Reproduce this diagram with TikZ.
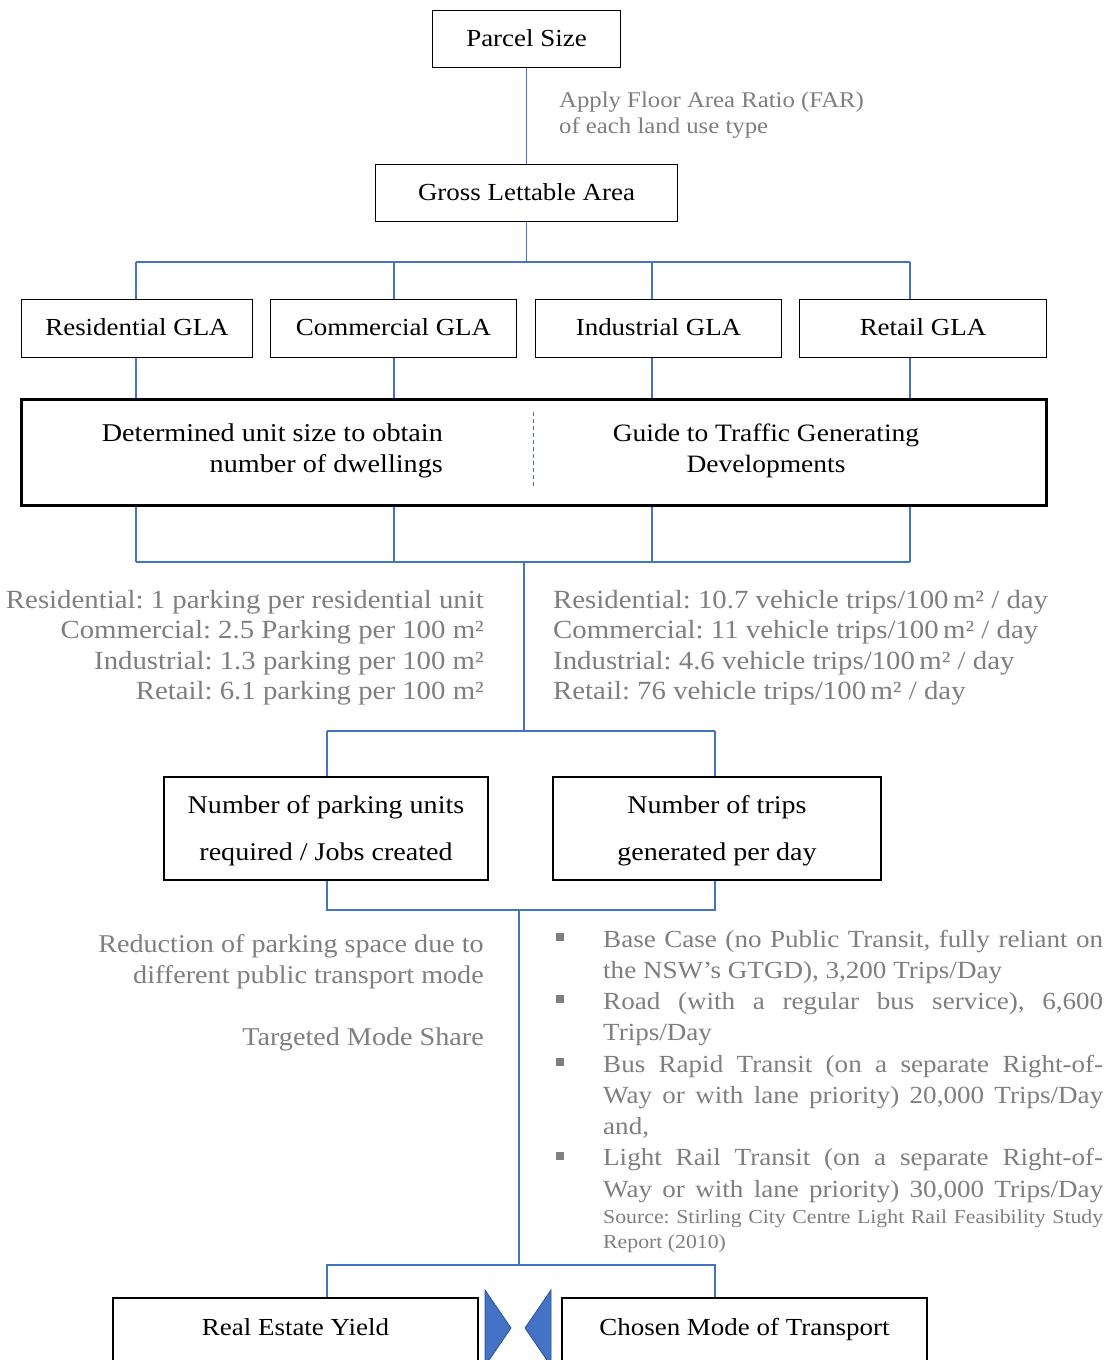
\documentclass[tikz,border=0pt]{standalone}
\usepackage{fontspec}
\setmainfont{Liberation Serif}[FakeStretch=1.1]
\definecolor{linkblue}{HTML}{4472C4}
\definecolor{notegray}{HTML}{7F7F7F}
\definecolor{chevfill}{HTML}{4472C4}
\definecolor{chevline}{HTML}{2F528F}
\frenchspacing
\begin{document}
\begin{tikzpicture}[x=1pt,y=-1pt,
  box/.style={draw=black, line width=1.7pt, inner sep=0pt, text height=14pt, text depth=0pt,
    font=\fontsize{24.5}{30}\selectfont},
  link/.style={draw=linkblue, line width=1.3pt},
  note/.style={text=notegray, inner sep=0pt},
  chev/.style={fill=chevfill, draw=chevline, line width=0.8pt},
  bulletsq/.style={fill=notegray},
]
\clip (0,0) rectangle (1113,1360);
\fill[white] (0,0) rectangle (1113,1360);

% --- top: parcel -> gross lettable area
\node[box, minimum width=188pt, minimum height=57pt] (parcel) at (526.5,39) {Parcel Size};
\node[box, minimum width=302pt, minimum height=57pt] (gla) at (526.5,193) {Gross Lettable Area};
% multi-line notes are anchored on the baseline of their last line
\node[note, anchor=base west, align=left, font=\fontsize{22.5}{26}\selectfont] (far) at (559,133)
  {Apply Floor Area Ratio (FAR)\\of each land use type};
\draw[link] (parcel) -- (gla);

% --- land use split
\node[box, minimum width=231pt, minimum height=58pt] (res) at (137,328.5) {Residential GLA};
\node[box, minimum width=246pt, minimum height=58pt] (com) at (393.5,328.5) {Commercial GLA};
\node[box, minimum width=246pt, minimum height=58pt] (ind) at (658.5,328.5) {Industrial GLA};
\node[box, minimum width=247pt, minimum height=58pt] (ret) at (923,328.5) {Retail GLA};

\coordinate (j0) at (526.5,262);
\coordinate (d1) at (136,262);
\coordinate (d2) at (394,262);
\coordinate (d3) at (652,262);
\coordinate (d4) at (910,262);
\draw[link] (gla.south) -- (j0);
\draw[link] (d1) -- (d4);
\draw[link] (d1) -- (d1 |- res.north);
\draw[link] (d2) -- (d2 |- com.north);
\draw[link] (d3) -- (d3 |- ind.north);
\draw[link] (d4) -- (d4 |- ret.north);

% --- guide box
\node[box, line width=2.8pt, minimum width=1025pt, minimum height=106pt] (guide) at (534,452.5) {};
\draw[link] (d1 |- res.south) -- (d1 |- guide.north);
\draw[link] (d2 |- com.south) -- (d2 |- guide.north);
\draw[link] (d3 |- ind.south) -- (d3 |- guide.north);
\draw[link] (d4 |- ret.south) -- (d4 |- guide.north);
\coordinate (sepT) at (533,412);
\coordinate (sepB) at (533,488);
\draw[link, line width=1pt, dash pattern=on 4pt off 3pt] (sepT) -- (sepB);
\node[anchor=base east, align=right, inner sep=0pt, font=\fontsize{25.6}{31}\selectfont] (unitsz) at (443,472)
  {Determined unit size to obtain\\number of dwellings};
\node[anchor=base, align=center, inner sep=0pt, font=\fontsize{25}{31}\selectfont] (gtgd) at (766,472)
  {Guide to Traffic Generating\\Developments};

% --- rates
\coordinate (b1) at (136,562);
\coordinate (b4) at (910,562);
\coordinate (j1) at (524,562);
\coordinate (j2) at (524,731);
\draw[link] (d1 |- guide.south) -- (b1);
\draw[link] (d2 |- guide.south) -- (d2 |- b1);
\draw[link] (d3 |- guide.south) -- (d3 |- b1);
\draw[link] (d4 |- guide.south) -- (b4);
\draw[link] (b1) -- (b4);
\draw[link] (j1) -- (j2);

\node[note, anchor=base east, align=right, font=\fontsize{26.2}{30.5}\selectfont] (park) at (484,699.5)
  {Residential: 1 parking per residential unit\\
   Commercial: 2.5 Parking per 100 m²\\
   Industrial: 1.3 parking per 100 m²\\
   Retail: 6.1 parking per 100 m²};
\node[note, anchor=base west, align=left, font=\fontsize{26.2}{30.5}\selectfont] (trips) at (553,699.5)
  {Residential: 10.7 vehicle trips/100\,m² / day\\
   Commercial: 11 vehicle trips/100\,m² / day\\
   Industrial: 4.6 vehicle trips/100\,m² / day\\
   Retail: 76 vehicle trips/100\,m² / day};

% --- demand boxes
\coordinate (p1) at (327,731);
\coordinate (p2) at (715,731);
\node[box, minimum width=324pt, minimum height=103pt, align=center, text height=63pt, text depth=0pt,
  font=\fontsize{25.5}{47}\selectfont] (pbox) at (326,828.5)
  {Number of parking units\\required / Jobs created};
\node[box, minimum width=328pt, minimum height=103pt, align=center, text height=63pt, text depth=0pt,
  font=\fontsize{25.5}{47}\selectfont] (tbox) at (717,828.5)
  {Number of trips\\generated per day};
\draw[link] (p1) -- (p2);
\draw[link] (p1) -- (p1 |- pbox.north);
\draw[link] (p2) -- (p2 |- tbox.north);

% --- mode share
\coordinate (q1) at (327,910);
\coordinate (q2) at (715,910);
\coordinate (k1) at (519,910);
\coordinate (k2) at (519,1265);
\coordinate (r1) at (327,1265);
\coordinate (r2) at (715,1265);
\draw[link] (q1 |- pbox.south) -- (q1) -- (q2) -- (q2 |- tbox.south);
\draw[link] (k1) -- (k2);

\node[note, anchor=base east, align=right, font=\fontsize{25.6}{31}\selectfont] (reduce) at (484,983)
  {Reduction of parking space due to\\different public transport mode};
\node[note, anchor=base east, font=\fontsize{25.6}{31}\selectfont] (target) at (484,1045)
  {Targeted Mode Share};

\node[note, anchor=base west, align=left, font=\fontsize{24.6}{31.25}\selectfont] (modes) at (603,1197)
  {\makebox[500pt][s]{Base Case (no Public Transit, fully reliant on}\\
   the NSW’s GTGD), 3,200 Trips/Day\\
   \makebox[500pt][s]{Road (with a regular bus service), 6,600}\\
   Trips/Day\\
   \makebox[500pt][s]{Bus Rapid Transit (on a separate Right-of-}\\
   \makebox[500pt][s]{Way or with lane priority) 20,000 Trips/Day}\\
   and,\\
   \makebox[500pt][s]{Light Rail Transit (on a separate Right-of-}\\
   \makebox[500pt][s]{Way or with lane priority) 30,000 Trips/Day}};
\node[note, anchor=base west, align=left, font=\fontsize{19.8}{25}\selectfont] (source) at (603,1248)
  {\makebox[500pt][s]{Source: Stirling City Centre Light Rail Feasibility Study}\\
   Report (2010)};
\foreach \yb in {947,1009,1072,1166}
  \fill[bulletsq] (556,\yb-14) rectangle (564,\yb-6);

% --- outcome boxes
\node[box, minimum width=365pt, minimum height=104pt, text depth=44pt] (yield) at (295.5,1350) {Real Estate Yield};
\node[box, minimum width=365pt, minimum height=104pt, text depth=44pt] (mode) at (744.5,1350) {Chosen Mode of Transport};
\draw[link] (r1 |- yield.north) -- (r1) -- (r2) -- (r2 |- mode.north);
\draw[chev] (485,1290) -- (511,1328) -- (485,1366) -- cycle;
\draw[chev] (551,1290) -- (525,1328) -- (551,1366) -- cycle;
\end{tikzpicture}
\end{document}
